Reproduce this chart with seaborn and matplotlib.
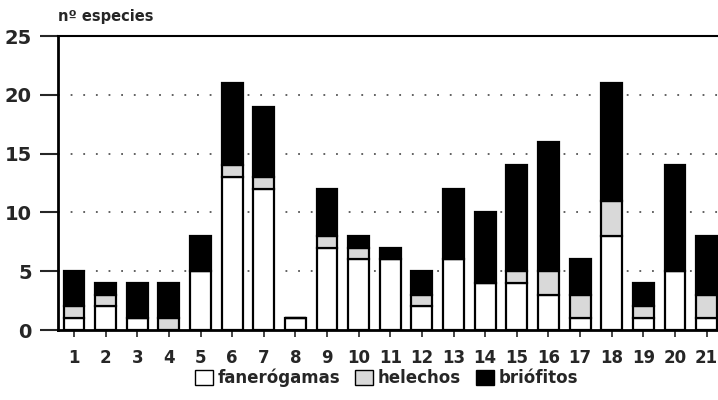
import numpy as np
import pandas as pd
import matplotlib
matplotlib.use("Agg")
import matplotlib.pyplot as plt
import seaborn as sns
from matplotlib.patches import Patch

# data
sitios = list(range(1, 22))
fanerogamas = [1, 2, 1, 0, 5, 13, 12, 1, 7, 6, 6, 2, 6, 4, 4, 3, 1, 8, 1, 5, 1]
helechos    = [1, 1, 0, 1, 0, 1, 1, 0, 1, 1, 0, 1, 0, 0, 1, 2, 2, 3, 1, 0, 2]
briofitos   = [3, 1, 3, 3, 3, 7, 6, 0, 4, 1, 1, 2, 6, 6, 9, 11, 3, 10, 2, 9, 5]

sns.set_style("white")
plt.rcParams['font.family'] = ['DejaVu Sans']
plt.rcParams['font.weight'] = 'bold'

fig = plt.figure(figsize=(7.18, 4.0), dpi=100)
ax = fig.add_axes([0.081, 0.175, 0.919, 0.735])

col_fan = "#ffffff"
col_hel = "#d9d9d9"
col_bri = "#000000"

fan = np.array(fanerogamas)
hel = np.array(helechos)
bri = np.array(briofitos)

kw = dict(native_scale=True, width=0.66, errorbar=None, edgecolor="black",
          linewidth=1.6, ax=ax, zorder=3)
sns.barplot(x=sitios, y=fan, color=col_fan, saturation=1, **kw)
sns.barplot(x=sitios, y=hel, bottom=fan, color=col_hel, saturation=1, **kw)
sns.barplot(x=sitios, y=bri, bottom=fan + hel, color=col_bri, saturation=1, **kw)

ax.set_xlim(0.5, 21.36)
ax.set_ylim(0, 25)
ax.set_yticks([0, 5, 10, 15, 20, 25])
ax.set_xticks(sitios)
ax.set_xticklabels([str(s) for s in sitios])
ax.set_xlabel("")
ax.set_ylabel("")

# dotted grid lines
for y in [5, 10, 15, 20]:
    ax.axhline(y, color="#555555", linestyle=(0, (1, 6)), linewidth=1.3, zorder=1)

ax.spines["right"].set_visible(False)
ax.spines["left"].set_linewidth(2)
ax.spines["bottom"].set_linewidth(2)
ax.spines["top"].set_linewidth(1.5)
for s in ["left", "bottom", "top"]:
    ax.spines[s].set_color("black")

ax.tick_params(axis="y", direction="out", length=13, width=1.5, pad=6,
               labelsize=14, left=True)
ax.tick_params(axis="x", direction="out", length=5, width=1.2, pad=9,
               labelsize=12, bottom=True)
for lab in ax.get_xticklabels() + ax.get_yticklabels():
    lab.set_fontweight("heavy")

fig.text(0.081, 0.94, "nº especies", fontsize=10.5, fontweight="heavy", ha="left", va="bottom")

handles = [Patch(facecolor=col_fan, edgecolor="black", linewidth=1),
           Patch(facecolor=col_hel, edgecolor="black", linewidth=1),
           Patch(facecolor=col_bri, edgecolor="black", linewidth=1)]
fig.legend(handles, ["fanerógamas", "helechos", "briófitos"], loc="center",
           bbox_to_anchor=(0.538, 0.055), ncol=3, frameon=False,
           handlelength=1.1, handleheight=1.0, handletextpad=0.25, columnspacing=0.9,
           prop=dict(size=12, weight="heavy"))

fig.savefig("out.png", dpi=100)
